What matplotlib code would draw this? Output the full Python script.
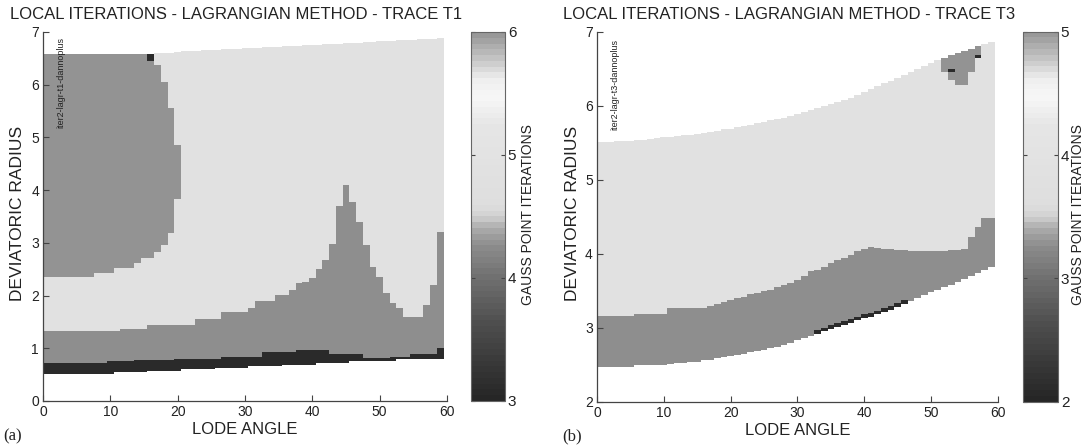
import numpy as np
import matplotlib
matplotlib.use('Agg')
import matplotlib.pyplot as plt
from matplotlib.colors import ListedColormap, BoundaryNorm, LinearSegmentedColormap, Normalize
from matplotlib.cm import ScalarMappable

plt.rcParams['font.family'] = ['Liberation Sans', 'DejaVu Sans']

# ---------------- trace T1 : one value per 1 degree lode angle column (0..59)
t1_lower = [0.52, 0.52, 0.52, 0.52, 0.52, 0.52, 0.52, 0.52, 0.52, 0.52,
            0.52, 0.55, 0.55, 0.55, 0.55, 0.55, 0.57, 0.57, 0.57, 0.57,
            0.57, 0.60, 0.60, 0.60, 0.60, 0.60, 0.63, 0.63, 0.63, 0.63,
            0.63, 0.66, 0.66, 0.66, 0.66, 0.66, 0.69, 0.69, 0.69, 0.69,
            0.69, 0.72, 0.72, 0.72, 0.72, 0.72, 0.75, 0.75, 0.75, 0.75,
            0.75, 0.75, 0.75, 0.79, 0.79, 0.79, 0.79, 0.79, 0.79, 0.79]
t1_dark_top = [0.72, 0.72, 0.72, 0.72, 0.72, 0.72, 0.72, 0.72, 0.72, 0.72,
               0.75, 0.75, 0.75, 0.75, 0.77, 0.77, 0.77, 0.77, 0.77, 0.77,
               0.79, 0.79, 0.79, 0.79, 0.79, 0.79, 0.79, 0.83, 0.83, 0.83,
               0.83, 0.83, 0.83, 0.92, 0.92, 0.92, 0.92, 0.92, 0.97, 0.97,
               0.97, 0.97, 0.97, 0.89, 0.89, 0.89, 0.89, 0.89, 0.81, 0.81,
               0.81, 0.81, 0.84, 0.84, 0.84, 0.89, 0.89, 0.89, 0.89, 1.00]
t1_mid_top = [1.32, 1.32, 1.32, 1.32, 1.32, 1.32, 1.32, 1.32, 1.32, 1.32,
              1.32, 1.32, 1.36, 1.36, 1.36, 1.36, 1.45, 1.45, 1.45, 1.45,
              1.45, 1.45, 1.45, 1.56, 1.56, 1.56, 1.56, 1.68, 1.68, 1.68,
              1.68, 1.77, 1.90, 1.90, 1.90, 2.01, 2.01, 2.10, 2.23, 2.25,
              2.33, 2.50, 2.68, 2.97, 3.70, 4.10, 3.78, 3.40, 2.96, 2.54,
              2.36, 2.05, 1.86, 1.76, 1.60, 1.60, 1.60, 1.82, 2.20, 3.20]
t1_top = [6.58, 6.58, 6.58, 6.58, 6.58, 6.58, 6.58, 6.58, 6.58, 6.58,
          6.58, 6.58, 6.58, 6.58, 6.58, 6.58, 6.58, 6.60, 6.61, 6.61,
          6.62, 6.63, 6.63, 6.64, 6.65, 6.65, 6.66, 6.67, 6.67, 6.68,
          6.69, 6.69, 6.70, 6.71, 6.71, 6.72, 6.73, 6.73, 6.74, 6.75,
          6.75, 6.76, 6.77, 6.77, 6.78, 6.79, 6.79, 6.80, 6.81, 6.81,
          6.82, 6.83, 6.83, 6.84, 6.85, 6.85, 6.86, 6.87, 6.87, 6.88]
# upper left block (6 iterations), columns 0..20
t1_six_lo = [2.35, 2.35, 2.35, 2.35, 2.35, 2.35, 2.35, 2.35, 2.42, 2.42,
             2.42, 2.53, 2.53, 2.53, 2.62, 2.72, 2.72, 2.82, 2.96, 3.18, 3.84]
t1_six_hi = [6.58, 6.58, 6.58, 6.58, 6.58, 6.58, 6.58, 6.58, 6.58, 6.58,
             6.58, 6.58, 6.58, 6.58, 6.58, 6.58, 6.58, 6.37, 6.06, 5.55, 4.85]
t1_spots = [(16, 6.45, 6.58, 3)]   # column, r from, r to, iterations

# ---------------- trace T3
t3_lower = [2.47, 2.47, 2.47, 2.47, 2.47, 2.47, 2.49, 2.49, 2.49, 2.49,
            2.49, 2.51, 2.52, 2.52, 2.54, 2.54, 2.56, 2.57, 2.59, 2.60,
            2.62, 2.63, 2.65, 2.67, 2.68, 2.70, 2.72, 2.74, 2.77, 2.80,
            2.83, 2.86, 2.89, 2.92, 2.95, 2.98, 3.01, 3.04, 3.07, 3.10,
            3.13, 3.15, 3.18, 3.21, 3.24, 3.28, 3.32, 3.36, 3.40, 3.44,
            3.48, 3.51, 3.55, 3.58, 3.62, 3.66, 3.70, 3.74, 3.78, 3.82]
t3_mid_top = [3.16, 3.16, 3.16, 3.16, 3.16, 3.16, 3.19, 3.19, 3.19, 3.19,
              3.19, 3.26, 3.26, 3.26, 3.26, 3.26, 3.26, 3.30, 3.32, 3.35,
              3.38, 3.40, 3.42, 3.45, 3.47, 3.49, 3.51, 3.55, 3.58, 3.60,
              3.64, 3.70, 3.76, 3.78, 3.82, 3.88, 3.91, 3.94, 3.98, 4.03,
              4.07, 4.09, 4.08, 4.07, 4.06, 4.05, 4.05, 4.04, 4.04, 4.04,
              4.04, 4.04, 4.04, 4.05, 4.05, 4.06, 4.23, 4.36, 4.48, 4.48]
t3_top = [5.51, 5.51, 5.51, 5.52, 5.52, 5.52, 5.53, 5.54, 5.55, 5.56,
          5.57, 5.58, 5.59, 5.60, 5.61, 5.62, 5.63, 5.65, 5.66, 5.68,
          5.69, 5.71, 5.73, 5.74, 5.76, 5.78, 5.80, 5.82, 5.84, 5.86,
          5.89, 5.91, 5.94, 5.97, 6.00, 6.02, 6.05, 6.08, 6.11, 6.14,
          6.18, 6.22, 6.26, 6.30, 6.34, 6.38, 6.42, 6.46, 6.50, 6.54,
          6.58, 6.62, 6.65, 6.68, 6.71, 6.74, 6.77, 6.80, 6.83, 6.86]
t3_dark_cols = list(range(33, 47))   # thin 2-iteration strip on lower edge
t3_dark_width = 0.05
# top right patch (5 iterations): columns 52..57
t3_patch_cols = [52, 53, 54, 55, 56, 57]
t3_patch_lo = [6.46, 6.35, 6.28, 6.28, 6.46, 6.64]
t3_spots = [(53, 6.45, 6.50, 2), (57, 6.64, 6.69, 2)]

theta_edges = np.concatenate([[0.0], np.arange(60) + 0.5])
theta_edges[-1] = 59.5


def grid_t1():
    r_e = np.arange(0, 7.0001, 0.01)
    rc = 0.5 * (r_e[1:] + r_e[:-1])
    z = np.full((len(rc), 60), np.nan)
    for i in range(60):
        col = z[:, i]
        inside = (rc >= t1_lower[i]) & (rc <= t1_top[i])
        col[inside & (rc < t1_dark_top[i])] = 3
        col[inside & (rc >= t1_dark_top[i]) & (rc < t1_mid_top[i])] = 4
        col[inside & (rc >= t1_mid_top[i])] = 5
        if i < len(t1_six_lo):
            col[(rc >= t1_six_lo[i]) & (rc <= t1_six_hi[i])] = 6
    for c, lo, hi, v in t1_spots:
        z[(rc >= lo) & (rc <= hi), c] = v
    return r_e, z


def grid_t3():
    r_e = np.arange(2, 7.0001, 0.01)
    rc = 0.5 * (r_e[1:] + r_e[:-1])
    z = np.full((len(rc), 60), np.nan)
    for i in range(60):
        col = z[:, i]
        inside = (rc >= t3_lower[i]) & (rc <= t3_top[i])
        col[inside & (rc < t3_mid_top[i])] = 3
        col[inside & (rc >= t3_mid_top[i])] = 4
        if i in t3_dark_cols:
            col[inside & (rc < t3_lower[i] + t3_dark_width)] = 2
    for c, lo in zip(t3_patch_cols, t3_patch_lo):
        z[(rc >= lo) & (rc <= t3_top[c]), c] = 5
    for c, lo, hi, v in t3_spots:
        z[(rc >= lo) & (rc <= hi), c] = v
    return r_e, z


# colours of the filled cells (low, mid-low, mid-high, top)
cell_grays = ['#2a2a2a', '#8e8e8e', '#e1e1e1', '#939393']

# colorbar map (matlab-like custom gray)
cb_pts = [(0.0, 0.15), (0.2, 0.30), (0.333, 0.44), (0.42, 0.55), (0.47, 0.68),
          (0.50, 0.82), (0.53, 0.87), (0.75, 0.90), (0.83, 0.97), (0.88, 0.93),
          (0.93, 0.78), (1.0, 0.60)]
cb_cmap = LinearSegmentedColormap.from_list('cb', [(t, (g, g, g)) for t, g in cb_pts], N=64)

fig = plt.figure(figsize=(10.87, 4.46), dpi=100)

panels = [
    dict(grid=grid_t1, vmin=3, ylim=(0, 7), yt=range(0, 8), tag='(a)',
         title='LOCAL ITERATIONS - LAGRANGIAN METHOD - TRACE T1',
         note='iter2-lagr-t1-dannoplus',
         ax=[0.0396, 0.1009, 0.3716, 0.8274], cax=[0.4333, 0.1009, 0.0313, 0.8274],
         title_x=0.009, tag_x=0.003, ylab_x=0.016, cbl_x=0.486),
    dict(grid=grid_t3, vmin=2, ylim=(2, 7), yt=range(2, 8), tag='(b)',
         title='LOCAL ITERATIONS - LAGRANGIAN METHOD - TRACE T3',
         note='iter2-lagr-t3-dannoplus',
         ax=[0.5492, 0.0993, 0.3689, 0.8297], cax=[0.9411, 0.0993, 0.0322, 0.8297],
         title_x=0.518, tag_x=0.517, ylab_x=0.527, cbl_x=0.992),
]

for p in panels:
    r_e, z = p['grid']()
    v0 = p['vmin']
    cmap = ListedColormap(cell_grays)
    norm = BoundaryNorm([v0 - 0.5, v0 + 0.5, v0 + 1.5, v0 + 2.5, v0 + 3.5], 4)

    ax = fig.add_axes(p['ax'])
    ax.pcolormesh(theta_edges, r_e, np.ma.masked_invalid(z), cmap=cmap, norm=norm,
                  shading='flat', edgecolors='none', antialiased=False)
    ax.set_xlim(0, 60)
    ax.set_ylim(*p['ylim'])
    ax.set_xticks(range(0, 61, 10))
    ax.set_yticks(list(p['yt']))
    for s in ['top', 'right']:
        ax.spines[s].set_visible(False)
    for s in ['left', 'bottom']:
        ax.spines[s].set_color('#444444')
        ax.spines[s].set_linewidth(0.9)
    ax.tick_params(direction='in', length=4, width=0.8, colors='#444444',
                   labelsize=10, labelcolor='#222222', pad=3)
    ax.set_xlabel('LODE ANGLE', fontsize=12, color='#222222', labelpad=2)
    fig.text(p['ylab_x'], 0.522, 'DEVIATORIC RADIUS', rotation=90, ha='center',
             va='center', fontsize=12.5, color='#222222')
    ax.text(2.0, p['ylim'][1] - 0.1, p['note'], rotation=90, ha='left', va='top',
            fontsize=6.5, color='#222222')
    fig.text(p['title_x'], 0.968, p['title'], ha='left', va='center',
             fontsize=12, color='#222222')
    fig.text(p['tag_x'], 0.022, p['tag'], ha='left', va='center', fontsize=12,
             family=['Liberation Serif', 'DejaVu Serif'], color='#222222')

    cax = fig.add_axes(p['cax'])
    sm = ScalarMappable(norm=Normalize(v0, v0 + 3), cmap=cb_cmap)
    cb = fig.colorbar(sm, cax=cax, ticks=[v0, v0 + 1, v0 + 2, v0 + 3])
    cb.outline.set_edgecolor('#666666')
    cb.outline.set_linewidth(0.8)
    cax.tick_params(axis='y', direction='in', left=True, right=True, length=3,
                    width=0.8, colors='#444444', labelsize=11, labelcolor='#222222', pad=2)
    fig.text(p['cbl_x'], 0.518, 'GAUSS POINT ITERATIONS', rotation=90, ha='center',
             va='center', fontsize=10, color='#222222')

plt.savefig('out.png', dpi=100)
